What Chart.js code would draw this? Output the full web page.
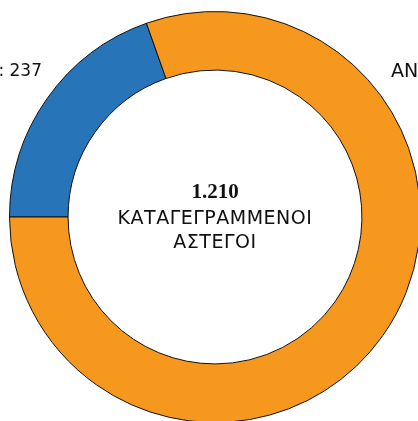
<!DOCTYPE html>
<html>
<head>
<meta charset="utf-8">
<script src="https://cdn.jsdelivr.net/npm/chart.js@4/dist/chart.umd.min.js"></script>
<style>
    html, body { margin: 0; padding: 0; background: #fff; overflow: hidden; width: 418px; height: 421px; }
    #wrap { position: absolute; left: 0; top: 0; width: 430px; height: 430px; }
</style>
</head>
<body>
<div id="wrap"><canvas id="chartAstegoi"></canvas></div>
<script>
const categorias = ["ΓΥΝΑΙΚΕΣ", "ΑΝΔΡΕΣ"];
const valores = [237, 973];
const colores = ["#2874b9", "#f7981e"];
const tituloCentro = ["ΚΑΤΑΓΕΓΡΑΜΜΕΝΟΙ", "ΑΣΤΕΓΟΙ"];

// texto central y etiquetas laterales
const textos = {
    id: "textos",
    afterDraw(chart) {
        const arc = chart.getDatasetMeta(0).data[0];
        const cx = arc.x, cy = arc.y;
        const ctx = chart.ctx;
        const total = valores.reduce((a, b) => a + b, 0);
        ctx.save();
        ctx.fillStyle = "#111";
        ctx.textAlign = "center";
        ctx.textBaseline = "middle";
        ctx.font = "bold 21px 'Liberation Serif'";
        ctx.fillText(total.toLocaleString("el-GR"), cx, cy - 24);
        ctx.font = "19px 'DejaVu Sans'";
        ctx.letterSpacing = "0.5px";
        ctx.fillText(tituloCentro[0], cx, cy + 2);
        ctx.fillText(tituloCentro[1], cx, cy + 26);

        ctx.letterSpacing = "0px";
        ctx.font = "17px 'DejaVu Sans'";
        ctx.textAlign = "right";
        ctx.fillText(categorias[0] + ": " + valores[0], cx - 173, cy - 145);
        ctx.font = "19px 'DejaVu Sans'";
        ctx.textAlign = "left";
        ctx.fillText(categorias[1] + ": " + valores[1], cx + 176, cy - 145);
        ctx.restore();
    }
};

new Chart(document.getElementById("chartAstegoi"), {
    type: "doughnut",
    data: {
        labels: categorias,
        datasets: [{
            data: valores,
            backgroundColor: colores,
            borderColor: "#111",
            borderWidth: 1
        }]
    },
    options: {
        responsive: true,
        maintainAspectRatio: false,
        animation: false,
        rotation: 270,
        cutout: "71.5%",
        layout: {
            padding: { left: 9, top: 11, right: 9, bottom: 7 }
        },
        plugins: {
            legend: { display: false },
            tooltip: { enabled: false }
        }
    },
    plugins: [textos]
});
</script>
</body>
</html>
